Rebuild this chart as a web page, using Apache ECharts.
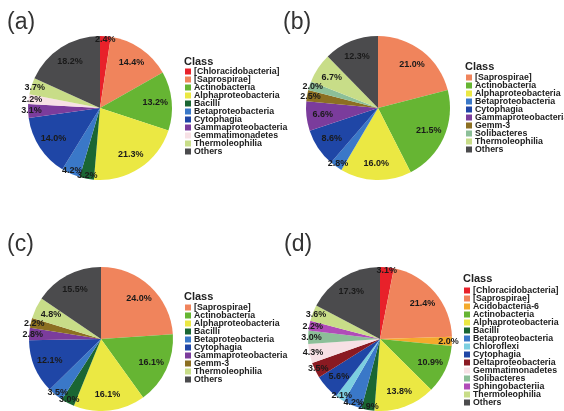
<!DOCTYPE html>
<html>
  <head>
    <meta charset="utf-8">
    <title>Class composition pies</title>
    <style>
      html, body { margin: 0; padding: 0; background: #fff; }
      #chart { width: 564px; height: 411px; }
    </style>
  </head>
  <body>
    <div id="chart"></div>
    <script src="https://cdn.jsdelivr.net/npm/echarts@6/dist/echarts.min.js"></script>
    <script>
      // Data (percent of reads, clockwise from 12 o'clock)
      var classesA = ['[Chloracidobacteria]', '[Saprospirae]', 'Actinobacteria', 'Alphaproteobacteria', 'Bacilli',
        'Betaproteobacteria', 'Cytophagia', 'Gammaproteobacteria', 'Gemmatimonadetes', 'Thermoleophilia', 'Others'];
      var valuesA = [2.4, 14.4, 13.2, 21.3, 3.2, 4.2, 14.0, 3.1, 2.2, 3.7, 18.2];

      var classesB = ['[Saprospirae]', 'Actinobacteria', 'Alphaproteobacteria', 'Betaproteobacteria', 'Cytophagia',
        'Gammaproteobacteria', 'Gemm-3', 'Solibacteres', 'Thermoleophilia', 'Others'];
      var valuesB = [21.0, 21.5, 16.0, 2.8, 8.6, 6.6, 2.5, 2.0, 6.7, 12.3];

      var classesC = ['[Saprospirae]', 'Actinobacteria', 'Alphaproteobacteria', 'Bacilli', 'Betaproteobacteria',
        'Cytophagia', 'Gammaproteobacteria', 'Gemm-3', 'Thermoleophilia', 'Others'];
      var valuesC = [24.0, 16.1, 16.1, 3.0, 3.5, 12.1, 2.8, 2.2, 4.8, 15.5];

      var classesD = ['[Chloracidobacteria]', '[Saprospirae]', 'Acidobacteria-6', 'Actinobacteria', 'Alphaproteobacteria',
        'Bacilli', 'Betaproteobacteria', 'Chloroflexi', 'Cytophagia', 'Deltaproteobacteria', 'Gemmatimonadetes',
        'Solibacteres', 'Sphingobacteriia', 'Thermoleophilia', 'Others'];
      var valuesD = [3.1, 21.4, 2.0, 10.9, 13.8, 2.9, 4.2, 2.1, 5.6, 3.5, 4.3, 3.0, 2.2, 3.6, 17.3];

      var COLORS = {
        '[Chloracidobacteria]': '#e8212a',
        '[Saprospirae]': '#f0845c',
        'Acidobacteria-6': '#f4aa2c',
        'Actinobacteria': '#66b533',
        'Alphaproteobacteria': '#ebe843',
        'Bacilli': '#1a6633',
        'Betaproteobacteria': '#3a78c8',
        'Chloroflexi': '#7ccfe0',
        'Cytophagia': '#1f46a6',
        'Deltaproteobacteria': '#8a1a22',
        'Gammaproteobacteria': '#7b3c9c',
        'Gemmatimonadetes': '#f7e1e5',
        'Gemm-3': '#8c6f22',
        'Solibacteres': '#8cbf98',
        'Sphingobacteriia': '#b04cb8',
        'Thermoleophilia': '#c8dd88',
        'Others': '#4b4b4d'
      };

      var FONT = 'Liberation Sans, Arial, sans-serif';
      var R = 72; // pie radius in px

      var panels = [
        { tag: '(a)', names: classesA, values: valuesA, center: [100, 108], tagPos: [7, 11], legend: [185, 67], titleTop: 56 },
        { tag: '(b)', names: classesB, values: valuesB, center: [378, 108], tagPos: [283, 11], legend: [466, 73], titleTop: 61 },
        { tag: '(c)', names: classesC, values: valuesC, center: [101, 339], tagPos: [7, 233], legend: [185, 303], titleTop: 291 },
        { tag: '(d)', names: classesD, values: valuesD, center: [380, 339], tagPos: [284, 233], legend: [464, 286], titleTop: 273 }
      ];

      var makeData = function(names, values) {
        return names.map(function(n, i) {
          return { name: n, value: values[i], itemStyle: { color: COLORS[n] } };
        });
      };

      var title = [], legend = [], series = [];

      panels.forEach(function(p) {
        title.push({
          text: p.tag, left: p.tagPos[0], top: p.tagPos[1], padding: 0,
          textStyle: { fontFamily: FONT, fontSize: 23, fontWeight: 'normal', color: '#333' }
        });
        title.push({
          text: 'Class', left: p.legend[0] - 1, top: p.titleTop, padding: 0,
          textStyle: { fontFamily: FONT, fontSize: 11, fontWeight: 'bold', color: '#222' }
        });
        legend.push({
          data: p.names, orient: 'vertical', left: p.legend[0], top: p.legend[1],
          height: 200, padding: 0, itemGap: -1, itemWidth: 6, itemHeight: 6, icon: 'rect',
          selectedMode: false,
          textStyle: { fontFamily: FONT, fontSize: 8.8, fontWeight: 'bold', color: '#222', lineHeight: 8, padding: [0, 0, 0, -2] }
        });
        var data = makeData(p.names, p.values);
        // the slices
        series.push({
          type: 'pie', center: p.center, radius: [0, R],
          startAngle: 90, clockwise: true, animation: false, silent: true,
          label: { show: false }, labelLine: { show: false },
          data: data
        });
        // label rings: big slices a bit inside, thin ones near the rim
        var labelRing = function(r0, keep) {
          return {
            type: 'pie', center: p.center, radius: [r0, R],
            startAngle: 90, clockwise: true, animation: false, silent: true,
            avoidLabelOverlap: false,
            labelLayout: { hideOverlap: false },
            itemStyle: { color: 'rgba(0,0,0,0)' },
            label: {
              show: true, position: 'inside',
              fontFamily: FONT, fontSize: 9, fontWeight: 'bold', color: '#1a1a1a',
              formatter: function(d) { return keep(d.value) ? d.value.toFixed(1) + '%' : ''; }
            },
            labelLine: { show: false },
            data: p.values.map(function(v, i) { return { name: p.names[i], value: v, itemStyle: { color: 'rgba(0,0,0,0)' } }; })
          };
        };
        series.push(labelRing(R * 0.46, function(v) { return v >= 4.5; }));
        series.push(labelRing(R * 0.82, function(v) { return v < 4.5; }));
      });

      var chart = echarts.init(document.getElementById('chart'));
      chart.setOption({
        backgroundColor: '#fff',
        title: title,
        legend: legend,
        series: series
      });
    </script>
  </body>
</html>
